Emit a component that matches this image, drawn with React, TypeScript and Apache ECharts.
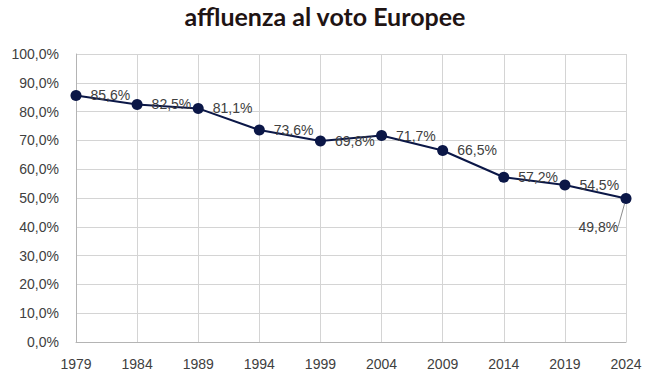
import React, { useEffect, useRef } from "react";
import * as echarts from "echarts";

const years = ["1979", "1984", "1989", "1994", "1999", "2004", "2009", "2014", "2019", "2024"];
const turnout = [85.6, 82.5, 81.1, 73.6, 69.8, 71.7, 66.5, 57.2, 54.5, 49.8];
const titleText = "affluenza al voto Europee";

const fmt = (v: number) => v.toFixed(1).replace(".", ",") + "%";

export default function App() {
  const ref = useRef<HTMLDivElement>(null);
  useEffect(() => {
    if (!ref.current) return;
    const chart = echarts.init(ref.current, undefined, { renderer: "svg" });
    const last = turnout.length - 1;
    chart.setOption({
      animation: false,
      backgroundColor: "#ffffff",
      title: {
        text: titleText,
        left: "center",
        top: -2,
        textStyle: { fontFamily: "Lato", fontWeight: "bold", fontSize: 25, color: "#1f1414" },
      },
      grid: { left: 76, right: 24, top: 54, bottom: 37 },
      xAxis: {
        type: "category",
        data: years,
        boundaryGap: false,
        axisLine: { show: true, lineStyle: { color: "#b4b4b4", width: 1 } },
        axisTick: { show: false },
        axisLabel: { color: "#404040", fontSize: 14, fontFamily: "Liberation Sans", margin: 15 },
        splitLine: { show: true, lineStyle: { color: "#d4d4d4", width: 1 } },
      },
      yAxis: {
        type: "value",
        min: 0,
        max: 100,
        interval: 10,
        axisLine: { show: true, lineStyle: { color: "#b4b4b4", width: 1 } },
        axisTick: { show: false },
        axisLabel: {
          color: "#404040",
          fontSize: 14,
          fontFamily: "Liberation Sans",
          margin: 17,
          formatter: (v: number) => fmt(v),
        },
        splitLine: { show: true, lineStyle: { color: "#d4d4d4", width: 1 } },
      },
      series: [
        {
          type: "line",
          data: turnout.map((v, i) =>
            i === last ? { value: v, labelLine: { show: true, lineStyle: { color: "#8c8c8c", width: 1 } } } : v
          ),
          symbol: "circle",
          symbolSize: 11,
          lineStyle: { color: "#0b1747", width: 2 },
          itemStyle: { color: "#0b1747" },
          label: {
            show: true,
            position: "right",
            distance: 9,
            color: "#404040",
            fontSize: 14,
            fontFamily: "Liberation Sans",
            formatter: (p: any) => fmt(p.value),
          },
          labelLayout: (p: any) => (p.dataIndex === last ? { dx: -62, dy: 28 } : {}),
        },
      ],
    });
    return () => chart.dispose();
  }, []);
  return (
    <div
      ref={ref}
      style={{ position: "absolute", left: 0, top: 0, width: 650, height: 379 }}
    />
  );
}
